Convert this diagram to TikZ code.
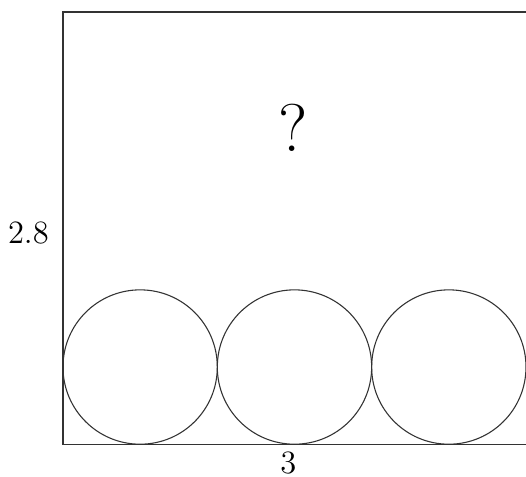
\documentclass[tikz,border=0pt]{standalone}
\usepackage{amsmath}
\usepackage{tikz}

\begin{document}
\begin{tikzpicture}[x=2cm, y=2cm]
			\useasboundingbox (-0.408,-0.207) rectangle (3,2.878);
			\draw[black!80] (3,2.8) -- (0,2.8) -- (0,0) -- (3,0);
			\foreach \c in {0.5, 1.5, 2.5}
			\draw[black!80] (\c,0.5) circle (0.5);
			\node (height) at (-0.224,1.37) {\large 2.8};
			\node (width) at (1.46,-0.125) {\large 3};
			\node (question) at (1.49,2.05) {\Huge ?};
		\end{tikzpicture}
\end{document}
